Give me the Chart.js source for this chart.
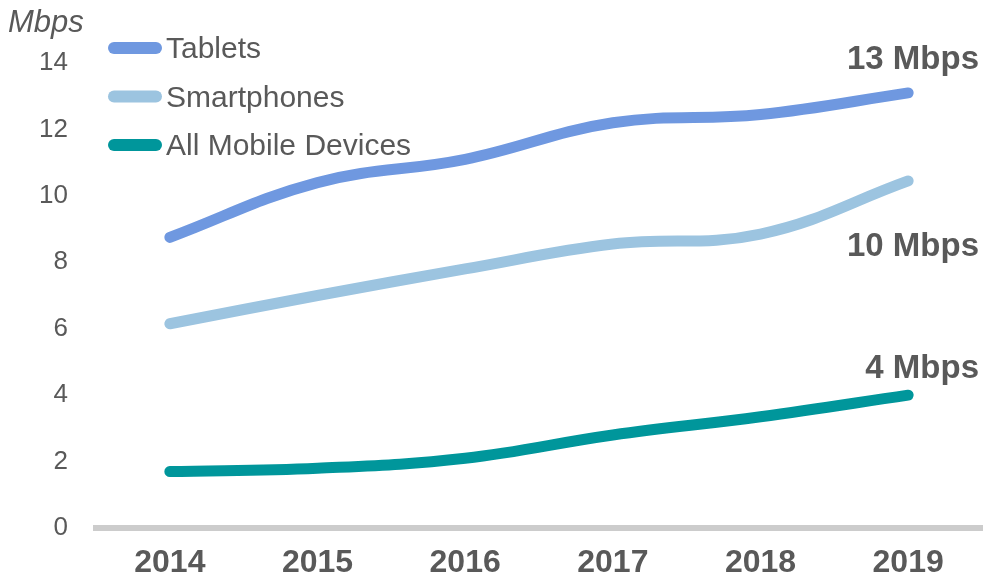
<!DOCTYPE html>
<html>
<head>
<meta charset="utf-8">
<script src="https://cdn.jsdelivr.net/npm/chart.js@4/dist/chart.umd.min.js"></script>
<style>
  html, body { margin: 0; padding: 0; background: #fff; }
  #wrap { width: 985px; height: 580px; position: relative; }
</style>
</head>
<body>
<div id="wrap"><canvas id="speedChart" width="985" height="580"></canvas></div>
<script>
// Chart data
const years = ['2014', '2015', '2016', '2017', '2018', '2019'];
const tablets = [8.75, 10.4, 11.1, 12.2, 12.45, 13.1];
const smartphones = [6.15, 7.0, 7.8, 8.55, 8.85, 10.45];
const allDevices = [1.7, 1.8, 2.1, 2.8, 3.35, 4.0];
const endLabels = ['13 Mbps', '10 Mbps', '4 Mbps'];
const yTicks = [0, 2, 4, 6, 8, 10, 12, 14];

const grey = '#595959';

// Draws the legend, the unit title and the end labels
const annotations = {
  id: 'annotations',
  afterDraw(chart) {
    const ctx = chart.ctx;
    ctx.save();
    // unit title
    ctx.fillStyle = grey;
    ctx.font = 'italic 31px "Liberation Sans", Arial, sans-serif';
    ctx.textAlign = 'left';
    ctx.textBaseline = 'middle';
    ctx.fillText('Mbps', 8, 23);

    // legend
    ctx.font = '30px "Liberation Sans", Arial, sans-serif';
    chart.data.datasets.forEach((ds, i) => {
      const y = 48 + i * 48.5;
      ctx.strokeStyle = ds.borderColor;
      ctx.lineWidth = 12;
      ctx.lineCap = 'round';
      ctx.beginPath();
      ctx.moveTo(114, y);
      ctx.lineTo(156, y);
      ctx.stroke();
      ctx.fillStyle = grey;
      ctx.fillText(ds.label, 166, y + 2);
    });

    // end labels
    ctx.font = 'bold 33px "Liberation Sans", Arial, sans-serif';
    ctx.textAlign = 'right';
    const offsets = [-33, 66, -26];
    chart.data.datasets.forEach((ds, i) => {
      const meta = chart.getDatasetMeta(i);
      const pt = meta.data[meta.data.length - 1];
      ctx.fillText(endLabels[i], 979, pt.y + offsets[i]);
    });
    ctx.restore();
  }
};

const ctx = document.getElementById('speedChart').getContext('2d');
new Chart(ctx, {
  type: 'line',
  data: {
    labels: years,
    datasets: [
      { label: 'Tablets', data: tablets, borderColor: '#6f98e0' },
      { label: 'Smartphones', data: smartphones, borderColor: '#9cc4e0' },
      { label: 'All Mobile Devices', data: allDevices, borderColor: '#00969b' }
    ].map(d => Object.assign(d, {
      borderWidth: 11,
      borderCapStyle: 'round',
      pointRadius: 0,
      tension: 0.4,
      fill: false
    }))
  },
  options: {
    responsive: false,
    animation: false,
    layout: { padding: { top: 63, right: 3, left: 0, bottom: 0 } },
    plugins: { legend: { display: false }, tooltip: { enabled: false } },
    scales: {
      x: {
        offset: true,
        grid: { display: false },
        border: { display: true, color: '#cccccc', width: 6 },
        ticks: {
          color: grey,
          padding: 8,
          font: { family: '"Liberation Sans", Arial, sans-serif', weight: 'bold', size: 32 }
        },
        afterFit(axis) { axis.height = 52; }
      },
      y: {
        min: 0,
        max: 14,
        grid: { display: false },
        border: { display: false },
        afterBuildTicks(axis) { axis.ticks = yTicks.map(v => ({ value: v })); },
        ticks: {
          color: grey,
          padding: 20,
          font: { family: '"Liberation Sans", Arial, sans-serif', size: 26 }
        },
        afterFit(axis) { axis.width = 96; }
      }
    }
  },
  plugins: [annotations]
});
</script>
</body>
</html>
